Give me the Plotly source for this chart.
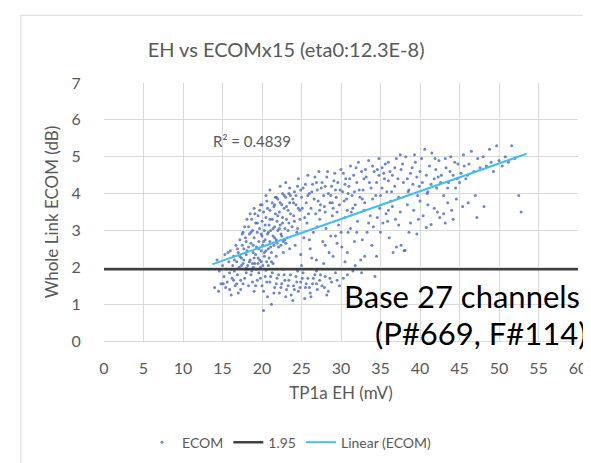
import plotly.graph_objects as go

# ---------------- data ----------------
pts_arm_start = [(14.0,1.45),(14.3,2.2),(14.6,1.9),(14.8,1.55),(15.0,2.05),(15.2,1.75),(15.3,2.35),(15.5,1.95),(15.6,1.6),(15.8,2.15),(15.9,1.85),(16.0,2.45),(16.2,1.7),(16.3,2.05),(16.4,2.3),(16.5,1.9),(16.6,1.5),(16.7,2.6),(16.8,2.15),(16.9,1.8),(17.0,2.4),(17.1,2.0),(17.2,2.75),(17.3,1.65),(17.4,2.25)]
pts_arm = [(17.5,2.9),(17.6,2.1),(17.7,2.5),(17.8,3.1),(17.9,1.95),(18.0,2.35),(18.0,2.7),(18.1,3.3),(18.2,2.05),(18.3,2.55),(18.4,2.9),(18.5,2.2),(18.5,3.45),(18.6,2.65),(18.7,1.9),(18.8,3.0),(18.9,2.4),(19.0,2.8),(19.0,3.6),(19.1,2.1),(19.2,3.2),(19.3,2.55),(19.4,2.95),(19.5,2.25),(19.5,3.4),(19.6,2.7),(19.7,3.05),(19.8,2.0),(19.8,3.7),(19.9,2.45),(20.0,2.85),(20.0,3.25),(20.1,2.6),(20.2,3.5),(20.3,2.3),(20.3,3.0),(20.4,2.75),(20.5,3.35),(20.6,2.15),(20.6,3.8),(20.7,2.9),(20.8,2.5),(20.9,3.15),(21.0,2.7),(21.0,3.55),(21.1,3.0),(21.2,2.4),(21.3,3.3),(21.4,2.85),(21.5,3.65),(21.5,2.6),(21.6,3.1),(21.7,3.45),(21.8,2.75),(21.9,3.25),(22.0,3.0),(22.0,3.85),(22.1,2.55),(22.2,3.5),(22.3,3.15),(22.4,2.9),(22.5,3.7),(22.6,3.35),(22.7,2.7),(22.8,3.6),(22.9,3.05),(23.0,3.9),(23.1,3.3),(23.2,2.8),(23.3,3.55),(23.4,3.2),(23.5,3.75),
           (18.2,1.95),(18.8,2.1),(19.3,1.95),(19.7,2.2),(20.1,2.05),(20.5,1.92),(20.9,2.25),(21.4,2.1),(17.4,2.05),(19.0,2.25)]
pts_arm_fill = [(17.2,2.3),(17.5,2.6),(17.7,2.2),(17.9,2.8),(18.1,2.45),(18.3,3.1),(18.4,2.15),(18.6,2.95),(18.7,3.3),(18.9,2.6),(19.1,3.45),(19.2,2.35),(19.4,3.2),(19.6,2.5),(19.7,3.55),(19.9,2.9),(20.0,3.7),(20.2,2.7),(20.4,3.15),(20.5,2.45),(20.7,3.6),(20.8,2.95),(21.0,3.3),(21.1,2.55),(21.3,3.75),(21.4,3.05),(21.6,2.8),(21.7,3.9),(21.9,2.65),(22.0,3.4),(22.2,3.05),(22.3,3.75),(22.5,2.85),(22.6,3.2),(22.8,3.95),(22.9,2.75),(23.1,3.65),(23.3,3.0),(23.4,4.0),(23.6,3.45),(23.8,3.1),(23.9,3.85),(24.1,3.25),(24.3,3.95),(24.4,2.95),(24.6,3.6),(24.8,3.3),(24.9,4.1),(18.0,1.98),(18.9,2.0),(19.9,2.15),(20.8,2.05),(21.8,2.3),(22.7,2.4),(23.5,2.5),(16.9,2.5),(17.6,2.95),(16.5,2.2),(15.7,2.4),(16.1,1.95),(19.5,2.1),(20.3,2.4),(21.2,2.15),(22.4,2.6),(23.0,2.65)]
pts_upper_band = [(20.5,3.95),(21.0,4.1),(21.8,3.9),(22.3,4.2),(23.0,4.3),(23.6,3.95),(24.0,3.4),(24.1,4.05),(24.3,3.7),(24.6,4.4),(24.8,3.55),(25.0,3.9),(25.2,4.15),(25.4,3.35),(25.6,3.75),(25.8,4.5),(26.0,4.0),(26.2,3.6),(26.4,4.25),(26.6,3.85),(26.8,3.45),(27.0,4.1),(27.2,4.6),(27.4,3.7),(27.6,4.3),(27.8,3.95),(28.0,3.5),(28.2,4.45),(28.4,4.0),(28.6,3.75),(28.8,4.2),(29.0,3.6),(29.2,4.55),(29.4,3.9),(29.6,4.3),(29.8,3.7),(30.0,4.65),(30.2,4.05),(30.4,3.8),(30.6,4.4),(30.8,3.55),(31.0,4.2),(31.2,4.75),(31.4,3.95),(31.6,4.5),(31.8,3.7),(32.0,4.3),(32.2,4.85),(32.4,3.9),(32.6,4.6),(32.8,4.1),(33.0,3.75)]
pts_upper_band_fill = [(25.1,3.6),(25.5,4.25),(25.9,3.45),(26.3,4.05),(26.7,4.45),(27.1,3.8),(27.5,4.15),(27.9,3.65),(28.3,4.6),(28.7,3.95),(29.1,4.35),(29.5,3.5),(29.9,4.1),(30.3,4.55),(30.7,3.85),(31.1,4.4),(31.5,3.6),(31.9,4.7),(32.3,4.1),(32.7,3.85),(33.1,4.65),(33.6,4.3),(34.0,4.75),(34.4,3.95),(34.8,4.5),(35.2,4.15),(35.6,4.8),(36.0,4.35),(36.4,4.05),(36.8,4.7),(24.5,4.2),(25.8,3.95),(26.9,4.3),(28.0,4.2),(29.3,4.1),(30.5,4.25),(31.7,4.05),(32.9,4.4),(23.5,4.15),(22.6,4.0),(21.6,3.7),(24.0,3.75),(27.3,3.55),(28.9,3.75),(30.9,4.0)]
pts_upper_right = [(33.2,4.45),(33.5,4.9),(33.8,4.15),(34.0,3.85),(34.2,4.6),(34.5,4.3),(34.8,4.95),(35.0,3.95),(35.2,4.7),(35.5,4.4),(35.8,4.05),(36.0,4.85),(36.3,3.8),(36.5,4.5),(36.8,4.2),(37.0,4.95),(37.3,3.9),(37.6,4.65),(37.9,4.3),(38.2,5.0),(38.5,4.05),(38.8,4.55),(39.1,4.25),(39.4,4.85),(39.7,3.95),(40.0,4.6),(40.3,4.3),(40.6,5.2),(40.9,4.0),(41.2,4.75),(41.5,5.1),(41.8,4.4),(42.1,4.15),(42.4,4.9),(42.7,4.5),(43.0,3.95),(43.3,4.7),(43.6,4.3),(43.9,5.0),(44.2,4.5),(44.5,4.15),(44.8,4.8),
                   (37.2,4.4),(37.8,4.8),(38.4,4.4),(39.0,4.7),(39.6,4.45),(40.2,4.95),(40.8,4.5),(41.4,4.25),(42.0,4.65),(42.6,4.3),(43.2,4.95),(43.8,4.6),(44.4,4.85),(45.0,4.3),(45.6,4.75),(38.6,4.1),(39.9,4.2),(41.0,4.05),(42.3,4.45),(43.5,4.15),(44.7,4.4),(46.0,4.5),(36.2,4.6),(35.4,4.55),(34.6,4.65),(39.3,5.05),(41.9,4.95),(37.5,5.05)]
pts_far_right = [(45.2,4.55),(45.5,5.05),(45.8,4.4),(46.2,4.8),(46.5,5.15),(46.8,4.6),(47.0,3.95),(47.3,4.95),(47.6,4.7),(48.0,5.0),(48.1,3.65),(48.4,4.75),(48.8,5.2),(49.0,4.85),(49.3,4.6),(49.7,5.3),(50.0,4.9),(50.4,4.75),(50.8,5.0),(51.2,4.85),(51.6,5.3),(52.0,4.95),(52.5,3.95),(52.8,3.5),(47.2,3.35)]
pts_middle = [(24.2,2.6),(24.5,3.05),(24.9,2.35),(25.3,2.8),(25.7,3.2),(26.1,2.5),(26.5,2.95),(26.9,2.2),(27.3,3.3),(27.7,2.7),(28.1,3.05),(28.5,2.4),(28.9,3.4),(29.3,2.85),(29.7,3.15),(30.1,2.55),(30.5,3.35),(30.9,2.95),(31.3,3.5),(31.7,2.7),(32.1,3.25),(32.5,2.2),(32.9,3.55),(33.3,2.95),(33.7,3.4),(34.1,3.1),(34.5,2.3),(34.9,3.6),(35.3,3.2),(35.7,3.45),(36.1,2.8),(36.5,3.65),(36.9,3.3),(37.0,2.55),(37.5,3.5),(38.0,2.45),(38.4,3.7),(38.8,3.2),(39.2,3.55),(39.6,2.9),(40.0,3.8),(40.4,3.4),(40.8,3.08),(41.4,3.16),(41.8,3.6),(42.5,3.35),(43.0,3.45),(43.5,3.75),(44.0,3.55),(44.6,3.85),(38.1,2.46),(37.6,2.6),(36.6,2.4),
              (25.0,2.05),(26.3,2.25),(27.8,2.1),(29.0,2.3),(30.5,2.15),(31.8,2.05),(33.0,2.3),
              (26.0,2.75),(27.0,3.1),(28.0,2.6),(29.5,2.65),(30.8,2.4),(31.2,3.05),(32.7,2.75),(33.9,2.6),(35.0,2.95),(35.9,3.25),(37.3,3.15),(38.6,2.95),(39.8,3.3),(41.0,3.7),(42.2,3.5),(43.2,3.2),(44.2,3.3),(45.4,3.65),(46.1,3.75),(34.6,3.35),(36.0,3.55),(33.5,3.2),(32.0,2.95),(30.0,2.95),(28.7,2.85)]
pts_below = [(14.5,1.35),(15.4,1.45),(16.1,1.25),(16.8,1.55),(17.3,1.4),(17.8,1.7),(18.3,1.5),(18.6,1.8),(19.0,1.35),(19.4,1.65),(19.6,1.85),(20.0,1.5),(20.4,1.75),(20.7,1.2),(21.0,1.6),(21.3,1.85),(21.6,1.45),(21.9,1.7),(22.2,1.3),(22.5,1.55),(22.8,1.8),(23.1,1.4),(23.4,1.65),(23.7,1.25),(24.0,1.5),(24.3,1.75),(24.6,1.35),(24.9,1.6),(25.2,1.85),(25.5,1.45),(25.8,1.7),(26.1,1.3),(26.4,1.55),(26.7,1.8),(27.0,1.4),(27.3,1.65),(27.6,1.5),(28.0,1.75),(28.4,1.35),(28.8,1.6),(29.3,1.85),(29.8,1.5),(30.3,1.7),(21.2,1.0),(23.9,1.1),(25.4,1.15),(20.2,0.83),(34.3,1.75),(31.5,1.9),(26.9,1.9),(22.7,1.95),(24.5,1.9),
             (15.1,1.55),(15.9,1.4),(16.4,1.65),(17.0,1.3),(17.6,1.55),(18.0,1.85),(18.8,1.6),(19.2,1.5),(19.8,1.7),(20.2,1.35),(20.6,1.6),(21.1,1.75),(21.5,1.3),(21.8,1.55),(22.1,1.8),(22.4,1.45),(22.9,1.65),(23.3,1.5),(23.6,1.8),(24.1,1.4),(24.4,1.6),(24.8,1.45),(25.1,1.7),(25.6,1.55),(26.0,1.45),(26.5,1.7),(26.9,1.55),(27.4,1.8),(27.9,1.45),(28.6,1.7),(29.5,1.65),(30.8,1.8),(32.6,1.85),(23.0,1.2),(26.2,1.2),(28.2,1.25)]

all_pts = (pts_arm_start + pts_arm + pts_arm_fill + pts_upper_band + pts_upper_band_fill
           + pts_upper_right + pts_far_right + pts_middle + pts_below)
ecom_x = [p[0] for p in all_pts]
ecom_y = [p[1] for p in all_pts]

threshold_x = [0, 60]
threshold_y = [1.95, 1.95]

trend_x = [13.7, 53.5]
trend_y = [2.08, 5.08]

x_ticks = list(range(0, 61, 5))
y_ticks = list(range(0, 8))

title_text = "EH vs ECOMx15 (eta0:12.3E-8)"
r2_text = "R² = 0.4839"
overlay_line1 = "Base 27 channels"
overlay_line2 = "(P#669, F#114)"

# ---------------- figure ----------------
FONT = "Lato"
GRAY = "#595959"
W, H = 591, 463
L, R, T, B = 96, 16, 75, 129
pw, ph = W - L - R, H - T - B

def px(xp):
    return (xp - L) / pw

def py(yp):
    return (H - B - yp) / ph

fig = go.Figure()
fig.add_trace(go.Scatter(
    x=ecom_x, y=ecom_y, mode="markers", name="ECOM",
    marker=dict(size=3, color="rgba(68,104,196,0.8)", line=dict(width=0)),
))
fig.add_trace(go.Scatter(
    x=threshold_x, y=threshold_y, mode="lines", name="1.95",
    line=dict(color="#404040", width=2.5),
))
fig.add_trace(go.Scatter(
    x=trend_x, y=trend_y, mode="lines", name="Linear (ECOM)",
    line=dict(color="#45BCEE", width=2),
))

fig.update_layout(
    width=W, height=H,
    margin=dict(l=L, r=R, t=T, b=B),
    paper_bgcolor="white", plot_bgcolor="white",
    font=dict(family=FONT, color=GRAY, size=15),
    title=dict(text=title_text, x=px(280), xref="paper", xanchor="center",
               y=1 - 42 / H, yref="container", yanchor="middle",
               font=dict(family=FONT, size=20, color=GRAY)),
    showlegend=True,
    legend=dict(orientation="h", x=px(283), xanchor="center", y=py(436), yanchor="middle",
                font=dict(family=FONT, size=14, color=GRAY), itemwidth=30,
                bgcolor="rgba(0,0,0,0)", traceorder="normal"),
)
fig.update_xaxes(
    range=[0, 60], tickvals=x_ticks, showgrid=True, gridcolor="#D9D9D9", gridwidth=1,
    zeroline=False, showline=True, linecolor="#D9D9D9", linewidth=1,
    ticks="outside", ticklen=13, tickcolor="rgba(0,0,0,0)",
    tickfont=dict(family=FONT, size=16, color=GRAY),
    title=dict(text="TP1a EH (mV)", font=dict(family=FONT, size=17, color=GRAY), standoff=10),
)
fig.update_yaxes(
    range=[0, 7], tickvals=y_ticks, showgrid=True, gridcolor="#D9D9D9", gridwidth=1,
    zeroline=False, showline=False,
    ticks="outside", ticklen=19, tickcolor="rgba(0,0,0,0)",
    tickfont=dict(family=FONT, size=16, color=GRAY),
    title=dict(text="Whole Link ECOM (dB)", font=dict(family=FONT, size=17, color=GRAY), standoff=8),
)

fig.add_annotation(x=18.7, y=5.43, xref="x", yref="y", text=r2_text, showarrow=False,
                   font=dict(family=FONT, size=15, color=GRAY))
fig.add_annotation(x=px(337), y=py(289), xref="paper", yref="paper", text=overlay_line1,
                   showarrow=False, xanchor="left", yanchor="middle",
                   font=dict(family=FONT, size=31, color="black"))
fig.add_annotation(x=px(368), y=py(326), xref="paper", yref="paper", text=overlay_line2,
                   showarrow=False, xanchor="left", yanchor="middle",
                   font=dict(family=FONT, size=31, color="black"))

fig.add_shape(type="rect", xref="paper", yref="paper",
              x0=px(12), x1=px(589), y0=py(459), y1=py(7),
              line=dict(color="#D9D9D9", width=1), fillcolor="rgba(0,0,0,0)", layer="below")

fig.write_html("out.html")
